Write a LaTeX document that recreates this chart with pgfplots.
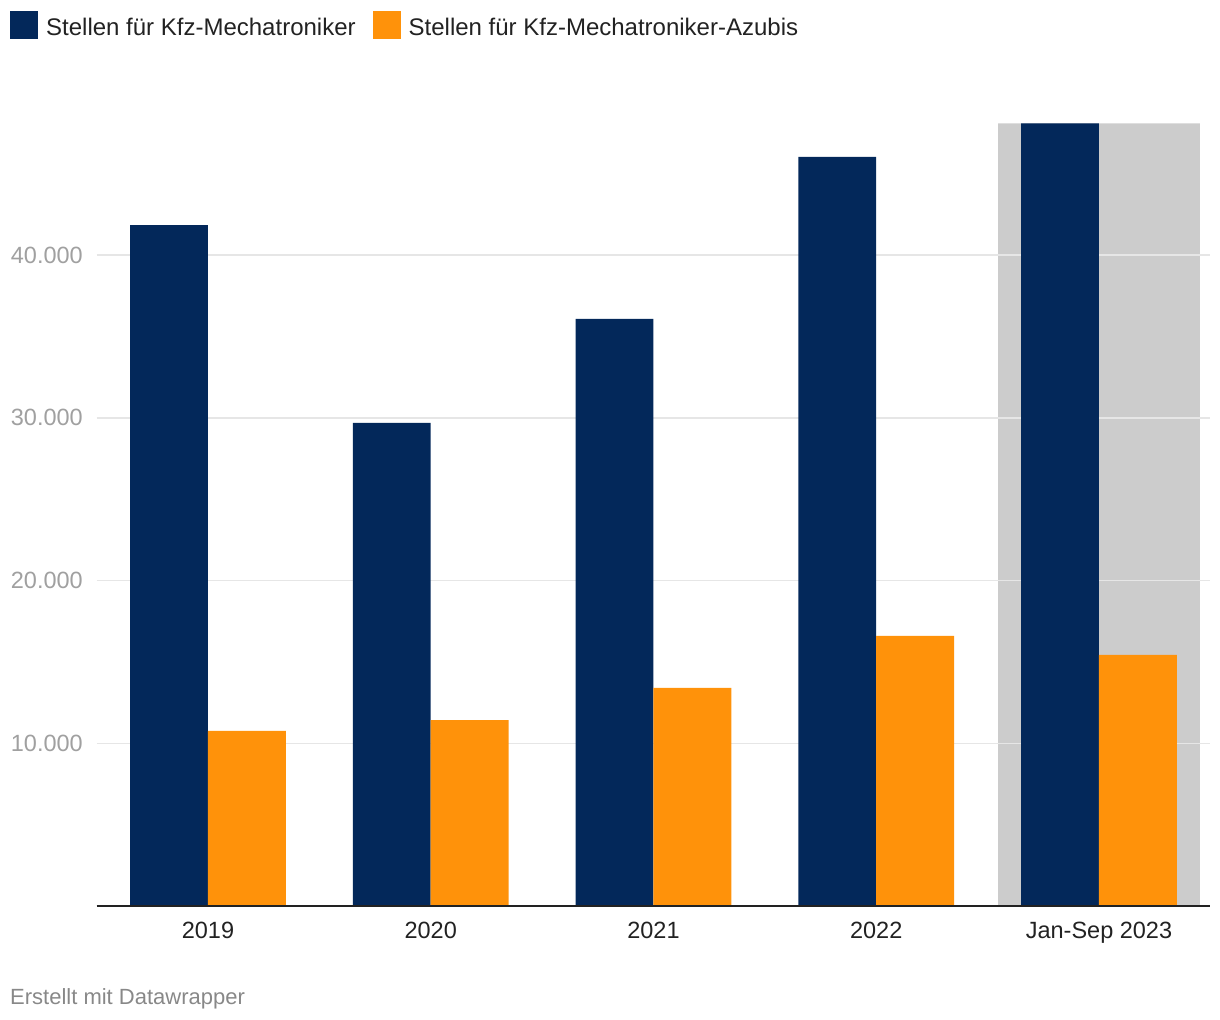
\documentclass[border=0pt]{standalone}
\usepackage{pgfplots}
\pgfplotsset{compat=1.18}
\usepackage{fontspec}
\setmainfont{Liberation Sans}
\definecolor{navy}{HTML}{03285A}
\definecolor{orng}{HTML}{FF920A}
\definecolor{band}{HTML}{CCCCCC}
\definecolor{gridc}{HTML}{E6E6E6}
\definecolor{tickc}{HTML}{A0A0A0}
\definecolor{txt}{HTML}{222222}
\definecolor{foot}{HTML}{888888}
\pgfplotsset{sqlegend/.style={legend image code/.code={\fill[##1] (0bp,-12bp) rectangle (28bp,16bp);}}}
\begin{document}
\begin{tikzpicture}
\begin{axis}[
  at={(96.6bp,114bp)}, anchor=south west,
  scale only axis, width=1113.8bp, height=782.6bp,
  xmin=-0.5, xmax=4.5, ymin=0, ymax=48100,
  set layers, clip=false,
  axis line style={draw=none},
  major tick length=0pt,
  xtick={0,1,2,3,4},
  xticklabels={2019,2020,2021,2022,Jan-Sep 2023},
  ytick={10000,20000,30000,40000},
  ymajorgrids, grid style={gridc, line width=1.5bp},
  scaled y ticks=false,
  /pgf/number format/1000 sep={.},
  /pgf/number format/assume math mode=true,
  tick label style={font=\fontsize{23.5bp}{28bp}\selectfont},
  yticklabel style={text=tickc, anchor=east, inner sep=0pt, xshift=-13.6bp},
  xticklabel style={text=txt, anchor=base, inner sep=0pt, yshift=-33bp},
  legend style={at={(0,1)}, anchor=west, xshift=-86.6bp, yshift=98.2bp, draw=none, fill=none,
    legend columns=2, font=\fontsize{24bp}{28bp}\selectfont, text=txt, inner sep=0pt,
    nodes={inner sep=0pt},
    /tikz/every odd column/.append style={column sep=8bp},
    /tikz/every even column/.append style={column sep=17bp}},
  legend cell align=left,
]
\addplot[fill=band, draw=none, on layer=axis background, forget plot]
  coordinates {(3.547,0) (3.547,48100) (4.453,48100) (4.453,0)} \closedcycle;
\addplot[ybar, sqlegend, bar width=0.35, bar shift=-0.175, fill=navy, draw=none]
  coordinates {(0,41850) (1,29690) (2,36080) (3,46040) (4,48100)};
\addlegendentry{Stellen für Kfz-Mechatroniker}
\addplot[ybar, sqlegend, bar width=0.35, bar shift=0.175, fill=orng, draw=none]
  coordinates {(0,10760) (1,11430) (2,13400) (3,16600) (4,15430)};
\addlegendentry{Stellen für Kfz-Mechatroniker-Azubis}
\addplot[txt, line width=1.5bp, forget plot] coordinates {(-0.5,0) (4.5,0)};
\end{axis}
\node[anchor=base west, inner sep=0pt, text=foot, font=\fontsize{22bp}{26bp}\selectfont] at (10bp,16bp) {Erstellt mit Datawrapper};
\pgfresetboundingbox
\path (0,0) rectangle (1220bp,1020bp);
\end{tikzpicture}
\end{document}
